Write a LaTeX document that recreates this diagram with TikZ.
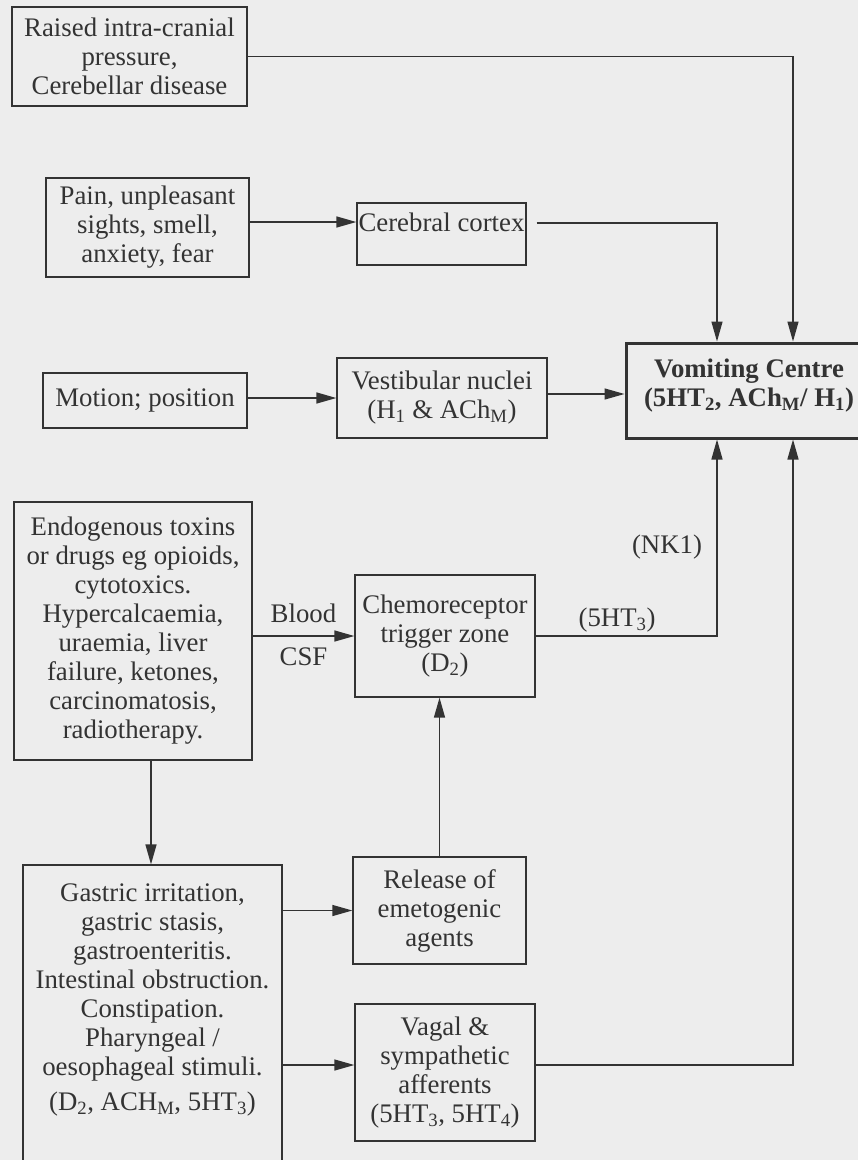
\documentclass[tikz,border=0pt]{standalone}
\usepackage{fontspec}
\setmainfont{Liberation Serif}
\usetikzlibrary{arrows.meta}
\definecolor{ink}{HTML}{333333}
\definecolor{paper}{HTML}{EDEDED}
\begin{document}
\begin{tikzpicture}[x=1pt,y=-1pt,
  box/.style={draw=ink, line width=1.3pt, inner sep=0pt, align=center, text=ink, font=\fontsize{26.8}{29}\selectfont},
  txt/.style={inner sep=0pt, align=center, text=ink, font=\fontsize{26.8}{29}\selectfont},
  arr/.style={draw=ink, line width=1.4pt, -{Triangle[length=20pt,width=11pt]}}]
\fill[paper] (0,0) rectangle (858,1160);
\useasboundingbox (0,0) rectangle (858,1160);

\node[box, minimum width=235pt, minimum height=99pt] (raised) at (129.5,56.5) {Raised intra-cranial\\pressure,\\Cerebellar disease};
\node[box, minimum width=203pt, minimum height=99pt] (pain) at (147.5,227.5) {Pain, unpleasant\\sights, smell,\\anxiety, fear};
\node[box, minimum width=169pt, minimum height=62pt] (cortex) at (441.5,234) {};
\node[txt] (cortext) at (441.5,222) {Cerebral cortex};
\node[box, minimum width=204pt, minimum height=55pt] (motion) at (145,400.5) {Motion; position};
\node[box, minimum width=210pt, minimum height=80pt] (vest) at (442,398) {Vestibular nuclei\\(H\textsubscript{1} \& ACh\textsubscript{M})};
\node[box, line width=3pt, minimum width=246pt, minimum height=95pt] (vc) at (749,390.5) {};
\node[txt, font=\fontsize{26.8}{29}\selectfont\bfseries] (vctext) at (749,386) {Vomiting Centre\\(5HT\textsubscript{2}, ACh\textsubscript{M}/ H\textsubscript{1})};
\node[box, minimum width=238pt, minimum height=258pt] (endo) at (133,631) {Endogenous toxins\\or drugs eg opioids,\\cytotoxics.\\Hypercalcaemia,\\uraemia, liver\\failure, ketones,\\carcinomatosis,\\radiotherapy.};
\node[box, minimum width=180pt, minimum height=122pt] (ctz) at (445,636) {Chemoreceptor\\trigger zone\\(D\textsubscript{2})};
\node[box, minimum width=259pt, minimum height=315pt] (gastric) at (152.5,1022.5) {};
\node[txt, anchor=north] (gastext) at (152.5,884) {Gastric irritation,\\gastric stasis,\\gastroenteritis.\\Intestinal obstruction.\\Constipation.\\Pharyngeal /\\oesophageal stimuli.\\[6pt](D\textsubscript{2}, ACH\textsubscript{M}, 5HT\textsubscript{3})};
\node[box, minimum width=173pt, minimum height=107pt] (release) at (439.5,910.5) {Release of\\emetogenic\\agents};
\node[box, minimum width=180pt, minimum height=137pt] (vagal) at (445,1072.5) {Vagal \&\\sympathetic\\afferents\\(5HT\textsubscript{3}, 5HT\textsubscript{4})};

\node[txt] (blood) at (303.5,613) {Blood};
\node[txt] (csf) at (303.5,657) {CSF};
\node[txt] (ht3) at (617,620) {(5HT\textsubscript{3})};
\node[txt] (nk1) at (667,547) {(NK1)};

\coordinate (cx1) at (717,0);
\coordinate (cx2) at (793,0);
\coordinate (cx4) at (151,0);
\coordinate (cy1) at (0,222);
\coordinate (cy2) at (0,223);
\coordinate (cy3) at (0,394);
\coordinate (cy5) at (0,1065);

\draw[arr] (raised.east) -| (cx2 |- vc.north);
\draw[arr] (pain.east |- cy1) -- (cortex.west |- cy1);
\draw[arr, shorten <=10pt] (cortex.east |- cy2) -| (cx1 |- vc.north);
\draw[arr] (motion.east |- vest.west) -- (vest.west);
\draw[arr] (vest.east |- cy3) -- (vc.west |- cy3);
\draw[arr] (endo.east |- ctz.west) -- (ctz.west);
\draw[arr] (ctz.east) -| (cx1 |- vc.south);
\draw[arr] (cx4 |- endo.south) -- (cx4 |- gastric.north);
\draw[arr] (gastric.east |- release.west) -- (release.west);
\draw[arr] (gastric.east |- cy5) -- (vagal.west |- cy5);
\draw[arr] (release.north) -- (release.north |- ctz.south);
\draw[arr] (vagal.east |- cy5) -| (cx2 |- vc.south);
\end{tikzpicture}
\end{document}
